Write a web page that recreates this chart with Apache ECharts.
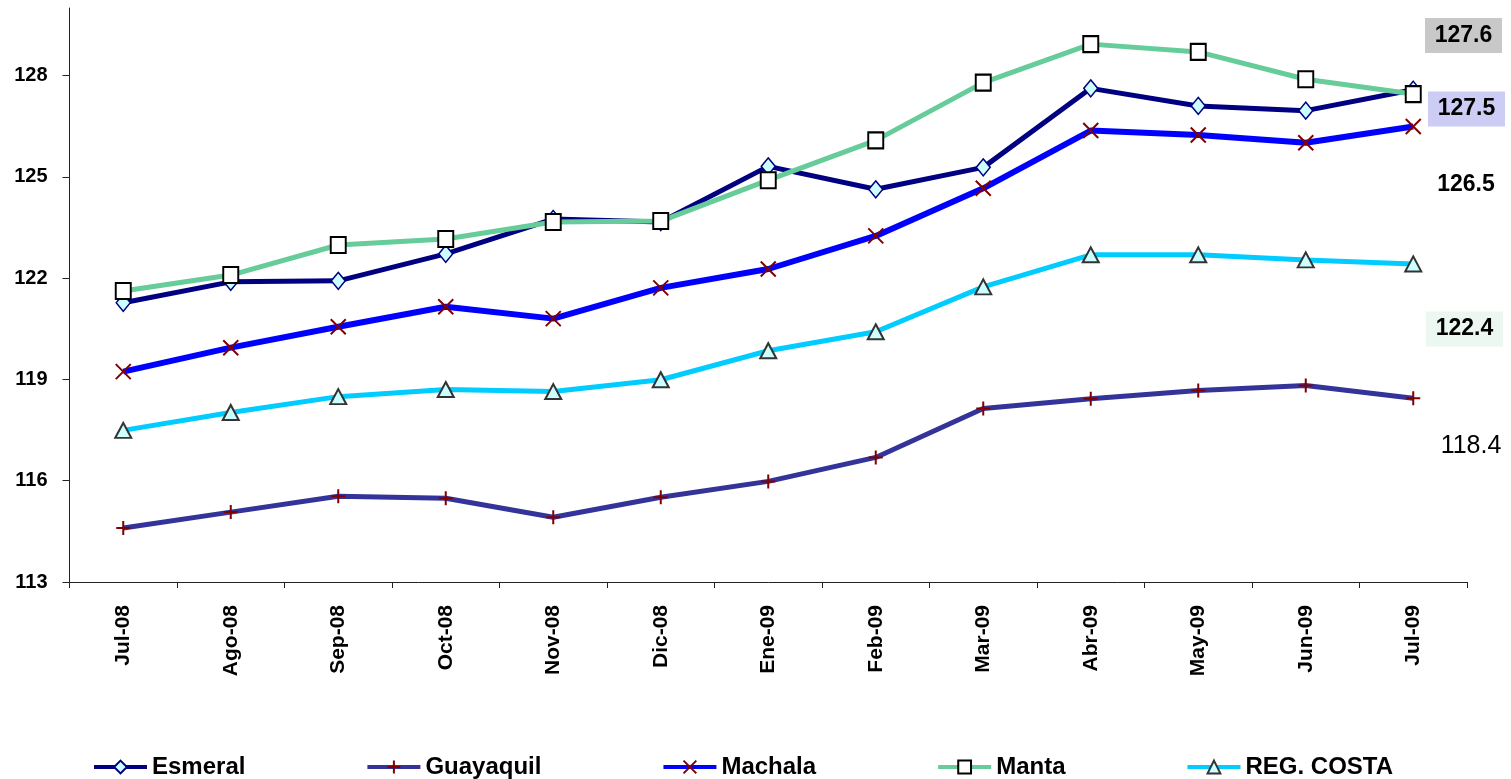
<!DOCTYPE html>
<html>
<head>
<meta charset="utf-8">
<script src="https://cdn.jsdelivr.net/npm/echarts@6/dist/echarts.min.js"></script>
<style>
html,body{margin:0;padding:0;background:#fff;}
#chart{width:1511px;height:779px;}
</style>
</head>
<body>
<div id="chart"></div>
<script>
const categories = ['Jul-08','Ago-08','Sep-08','Oct-08','Nov-08','Dic-08','Ene-09','Feb-09','Mar-09','Abr-09','May-09','Jun-09','Jul-09'];
const esmeral   = [121.27,121.89,121.92,122.72,123.75,123.66,125.31,124.63,125.28,127.62,127.10,126.96,127.58];
const guayaquil = [114.60,115.07,115.54,115.48,114.92,115.51,115.98,116.69,118.14,118.43,118.67,118.82,118.44];
const machala   = [119.23,119.94,120.56,121.15,120.80,121.71,122.27,123.25,124.66,126.37,126.24,126.01,126.49];
const manta     = [121.62,122.09,122.98,123.16,123.66,123.69,124.90,126.08,127.79,128.93,128.70,127.89,127.45];
const regCosta  = [117.49,118.02,118.49,118.70,118.64,118.99,119.85,120.41,121.74,122.69,122.69,122.54,122.42];
const yTicks = [113,116,119,122,125,128];

const FONT = "'Liberation Sans', Arial, sans-serif";
const chart = echarts.init(document.getElementById('chart'), null, {renderer:'canvas'});

const PLUS = 'path://M5,0 L5,10 M0,5 L10,5';
const CROSS = 'path://M0,0 L10,10 M10,0 L0,10';

function last(a){ return a[a.length-1].toFixed(1); }

function boxLabel(text, cx, cy, bg, bold, size){
  const els = [];
  if (bg) {
    els.push({type:'rect', shape:{x:cx-38.5, y:cy-17.5, width:77, height:35}, style:{fill:bg}, z:10});
  }
  els.push({type:'text', x:cx, y:cy, style:{text:text, fill:'#000', font:(bold?'bold ':'')+size+'px '+FONT, align:'center', verticalAlign:'middle'}, z:11});
  return els;
}

const option = {
  backgroundColor:'#fff',
  animation:false,
  grid:{left:69.5, right:44, top:8, bottom:197, containLabel:false},
  legend:{
    left:87, top:750,
    itemGap:120, itemWidth:53, itemHeight:16,
    lineStyle:{width:4},
    textStyle:{fontFamily:FONT, fontWeight:'bold', fontSize:24, color:'#000'},
    data:['Esmeral','Guayaquil','Machala','Manta','REG. COSTA']
  },
  xAxis:{
    type:'category', data:categories, boundaryGap:true,
    axisLine:{lineStyle:{color:'#222', width:1}},
    axisTick:{show:true, length:6, alignWithLabel:false, lineStyle:{color:'#222'}},
    axisLabel:{rotate:90, margin:23, fontFamily:FONT, fontWeight:'bold', fontSize:21, color:'#000', interval:0},
    splitLine:{show:false}
  },
  yAxis:{
    type:'value', min:113, max:130, interval:3,
    axisLine:{show:true, lineStyle:{color:'#222', width:1}},
    axisTick:{show:true, length:7, inside:false, customValues:yTicks, lineStyle:{color:'#222'}},
    axisLabel:{margin:22, fontFamily:FONT, fontWeight:'bold', fontSize:20, color:'#000', customValues:yTicks},
    splitLine:{show:false}
  },
  series:[
    {name:'Esmeral', type:'line', data:esmeral, symbol:'diamond', symbolSize:[14,17],
     lineStyle:{color:'#000080', width:5}, itemStyle:{color:'#ccffff', borderColor:'#000080', borderWidth:1.5}},
    {name:'Guayaquil', type:'line', data:guayaquil, symbol:PLUS, symbolSize:14,
     lineStyle:{color:'#333399', width:5}, itemStyle:{color:'#800000', borderColor:'#800000', borderWidth:2}},
    {name:'Machala', type:'line', data:machala, symbol:CROSS, symbolSize:15,
     lineStyle:{color:'#0000ff', width:6}, itemStyle:{color:'#800000', borderColor:'#800000', borderWidth:2}},
    {name:'Manta', type:'line', data:manta, symbol:'rect', symbolSize:[15,16],
     lineStyle:{color:'#66cc99', width:5}, itemStyle:{color:'#ffffff', borderColor:'#000000', borderWidth:2}},
    {name:'REG. COSTA', type:'line', data:regCosta, symbol:'triangle', symbolSize:[16,15],
     lineStyle:{color:'#00ccff', width:5}, itemStyle:{color:'#ccffff', borderColor:'#333333', borderWidth:2}}
  ],
  graphic:[].concat(
    boxLabel(last(esmeral), 1463.5, 35.5, '#c8c8c8', true, 23),
    boxLabel(last(manta), 1466.5, 109, '#ccccf5', true, 23),
    boxLabel(last(machala), 1466, 185, null, true, 23),
    boxLabel(last(regCosta), 1464.5, 329, '#ecf7f1', true, 23),
    boxLabel(last(guayaquil), 1471, 446, null, false, 25)
  )
};
chart.setOption(option);
</script>
</body>
</html>
